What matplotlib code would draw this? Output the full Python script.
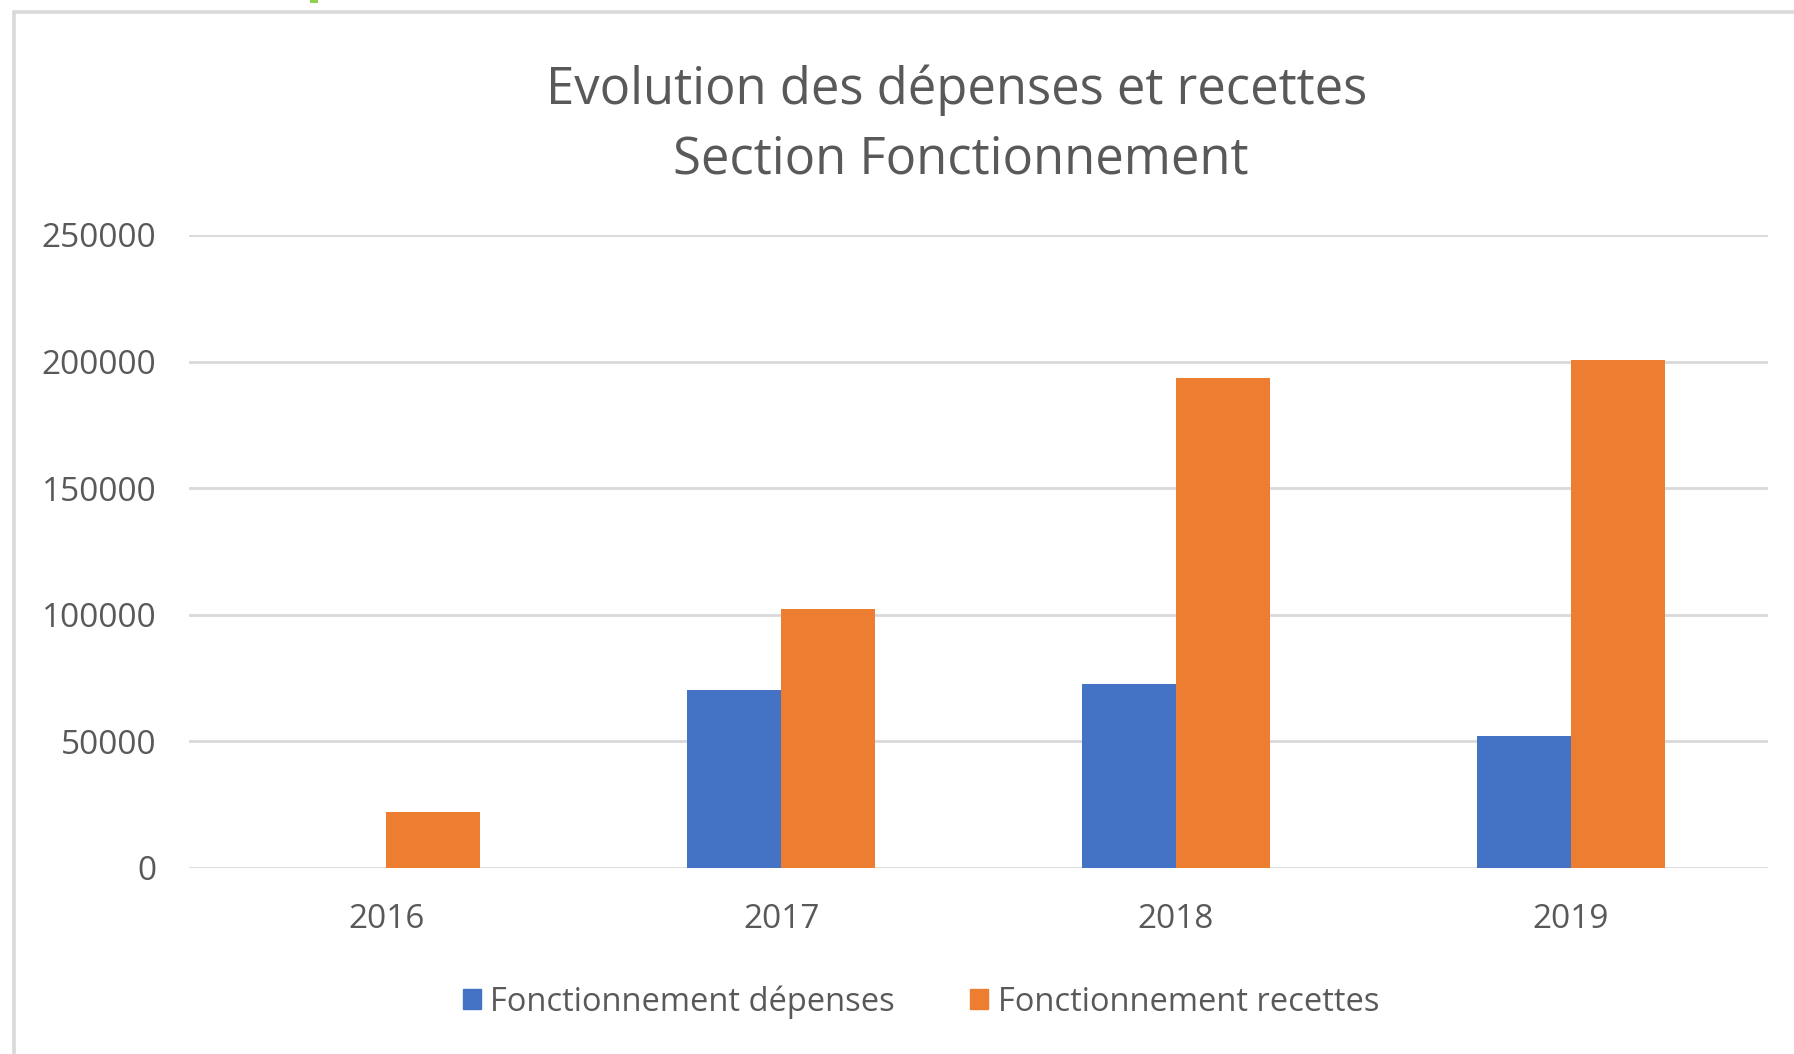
import numpy as np
import matplotlib
matplotlib.use("Agg")
import matplotlib.pyplot as plt
from matplotlib.patches import Rectangle, Patch

plt.rcParams.update({"font.family": ["Open Sans", "DejaVu Sans"]})

annees = ["2016", "2017", "2018", "2019"]
depenses = [0, 70300, 72600, 52200]
recettes = [22000, 102400, 193500, 200700]
yticks = [0, 50000, 100000, 150000, 200000, 250000]

BLUE, ORANGE, GREY, TXT = "#4472C4", "#ED7D31", "#D9D9D9", "#595959"
W, H = 1794, 1054
fig = plt.figure(figsize=(W / 100, H / 100), dpi=100)

# chart frame (cut off at right/bottom like the screenshot)
fig.patches.append(Rectangle((13.5 / W, -0.1), 1.2, 1 - 12 / H + 0.1, transform=fig.transFigure,
                             fill=False, ec=GREY, lw=2.6))
fig.patches.append(Rectangle((310 / W, 1 - 3 / H), 8 / W, 3 / H, transform=fig.transFigure,
                             fc="#92D050", ec="none"))

ax = fig.add_axes([189 / W, 1 - 868 / H, (1768 - 189) / W, (868 - 235) / H])
x = np.arange(len(annees))
bw = 0.238
ax.bar(x - bw / 2, depenses, bw, color=BLUE, label="Fonctionnement dépenses", zorder=3)
ax.bar(x + bw / 2, recettes, bw, color=ORANGE, label="Fonctionnement recettes", zorder=3)
ax.set_xlim(-0.5, len(annees) - 0.5)
ax.set_ylim(0, 250000)
ax.set_yticks(yticks)
ax.set_yticklabels([str(v) for v in yticks])
ax.set_xticks(x)
ax.set_xticklabels(annees)
for s in ax.spines.values():
    s.set_visible(False)
ax.grid(axis="y", color=GREY, lw=2, zorder=0)
ax.tick_params(length=0, labelsize=24, colors=TXT)
ax.tick_params(axis="y", pad=23.5)
ax.tick_params(axis="x", pad=25.5)
ax.set_axisbelow(True)

fig.text(957 / W, 1 - 90 / H, "Evolution des dépenses et recettes", ha="center", va="center",
         fontsize=36.5, color=TXT)
fig.text(961 / W, 1 - 160 / H, "Section Fonctionnement", ha="center", va="center",
         fontsize=36.5, color=TXT)

handles = [Patch(color=BLUE), Patch(color=ORANGE)]
fig.legend(handles, ["Fonctionnement dépenses", "Fonctionnement recettes"], loc="center",
           bbox_to_anchor=(921 / W, 1 - 1002 / H), ncol=2, frameon=False, fontsize=23.5,
           labelcolor=TXT, handlelength=0.55, handleheight=0.55, handletextpad=0.3,
           columnspacing=2.3)

fig.savefig("out.png", dpi=100, facecolor="white")
